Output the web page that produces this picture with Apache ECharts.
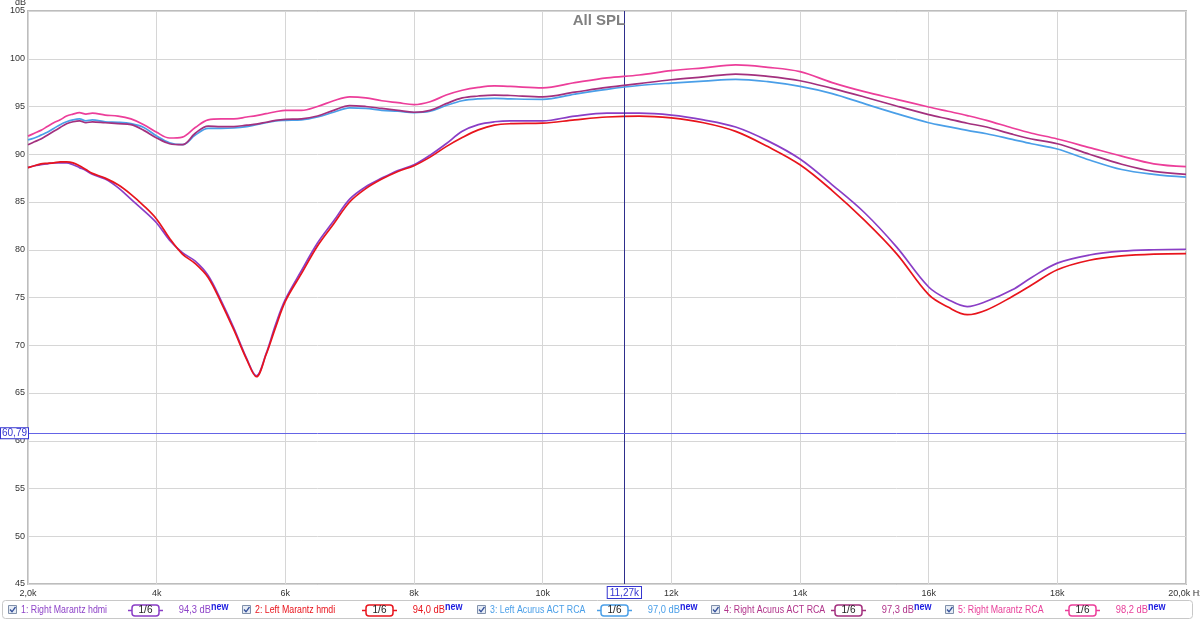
<!DOCTYPE html>
<html>
<head>
<meta charset="utf-8">
<script src="https://cdn.jsdelivr.net/npm/echarts@6/dist/echarts.min.js"></script>
<style>
html,body{margin:0;padding:0;background:#fff;}
#chart{width:1200px;height:620px;}
</style>
</head>
<body>
<div id="chart"></div>
<script>
// Frequency grid (kHz)
const FREQ = [2.0,2.1,2.2,2.3,2.4,2.5,2.6,2.7,2.8,2.9,
  3.0,3.2,3.4,3.6,3.8,4.0,4.2,4.4,4.6,4.8,
  5.0,5.2,5.4,5.55,5.7,5.85,6.0,6.25,6.5,6.75,
  7.0,7.25,7.5,7.75,8.0,8.25,8.5,8.75,9.0,9.25,
  9.5,10.0,10.5,11.0,11.5,12.0,12.5,13.0,13.5,14.0,
  14.5,15.0,15.5,16.0,16.3,16.6,16.9,17.3,17.6,18.0,
  18.5,19.0,19.5,20.0];

// 1: Right Marantz hdmi
const RIGHT_MARANTZ_HDMI = [88.6,88.8,88.9,89.0,89.1,89.1,89.1,88.9,88.6,88.3,
  87.9,87.4,86.5,85.3,84.1,82.8,81.0,79.7,78.8,77.3,
  74.7,71.8,68.6,66.8,69.1,72.2,74.8,77.8,80.7,83.0,
  85.3,86.6,87.5,88.3,88.9,89.9,91.1,92.4,93.1,93.4,
  93.5,93.5,94.0,94.3,94.3,94.1,93.6,92.85,91.4,89.5,
  86.8,83.9,80.3,76.1,74.8,74.05,74.6,75.8,77.1,78.6,
  79.45,79.85,80.0,80.05];

// 2: Left Marantz hmdi
const LEFT_MARANTZ_HDMI = [88.6,88.8,89.0,89.05,89.1,89.2,89.2,89.1,88.8,88.4,
  88.0,87.5,86.8,85.8,84.6,83.2,81.2,79.55,78.55,77.1,
  74.5,71.6,68.5,66.7,69.0,71.9,74.6,77.5,80.4,82.7,
  85.0,86.4,87.4,88.2,88.8,89.7,90.8,91.75,92.55,93.05,
  93.2,93.25,93.6,93.9,94.0,93.8,93.3,92.4,90.8,88.9,
  86.2,83.1,79.6,75.3,74.0,73.2,73.7,75.1,76.3,77.9,
  78.9,79.35,79.55,79.6];

// 3: Left Acurus ACT RCA
const LEFT_ACURUS_RCA = [91.5,91.7,92.0,92.3,92.7,93.1,93.4,93.6,93.7,93.5,
  93.6,93.4,93.35,93.2,92.8,91.9,91.2,91.0,92.0,92.7,
  92.7,92.75,92.9,93.1,93.3,93.5,93.55,93.6,93.9,94.4,
  94.85,94.8,94.6,94.5,94.35,94.5,95.1,95.6,95.8,95.85,
  95.8,95.75,96.3,96.8,97.2,97.45,97.65,97.85,97.6,97.1,
  96.35,95.3,94.25,93.3,92.9,92.5,92.15,91.55,91.1,90.55,
  89.4,88.4,87.9,87.6];

// 4: Right Acurus ACT RCA
const RIGHT_ACURUS_RCA = [91.0,91.3,91.6,92.0,92.4,92.8,93.2,93.4,93.5,93.3,
  93.4,93.3,93.2,93.1,92.5,91.7,91.1,91.0,92.2,92.95,
  92.9,92.9,93.05,93.15,93.35,93.55,93.65,93.7,94.0,94.6,
  95.1,95.0,94.8,94.6,94.4,94.6,95.3,95.9,96.1,96.2,
  96.15,96.0,96.5,97.0,97.4,97.8,98.1,98.4,98.15,97.7,
  96.9,96.0,95.05,94.15,93.7,93.25,92.85,92.1,91.6,91.1,
  90.0,88.95,88.2,87.9];

// 5: Right Marantz RCA
const RIGHT_MARANTZ_RCA = [91.9,92.2,92.5,92.9,93.3,93.6,94.0,94.2,94.35,94.2,
  94.3,94.1,94.0,93.7,93.1,92.3,91.7,91.8,92.8,93.6,
  93.7,93.7,93.9,94.05,94.25,94.45,94.6,94.6,95.0,95.6,
  96.0,95.9,95.6,95.4,95.2,95.5,96.2,96.7,97.0,97.15,
  97.1,96.95,97.5,98.0,98.3,98.75,99.05,99.35,99.1,98.65,
  97.5,96.55,95.75,94.95,94.5,94.05,93.55,92.75,92.2,91.6,
  90.7,89.8,89.0,88.7];

const SERIES_NAMES = ['1: Right Marantz hdmi','2: Left Marantz hmdi','3: Left Acurus ACT RCA','4: Right Acurus ACT RCA','5: Right Marantz RCA'];
const SERIES_DATA = [RIGHT_MARANTZ_HDMI, LEFT_MARANTZ_HDMI, LEFT_ACURUS_RCA, RIGHT_ACURUS_RCA, RIGHT_MARANTZ_RCA];
const LEGEND_VALUES = ['94,3 dB','94,0 dB','97,0 dB','97,3 dB','98,2 dB'];
const SMOOTHING = '1/6';

const X_TICK_VALUES = [2,4,6,8,10,12,14,16,18,20];
const X_TICK_LABELS = ['2,0k','4k','6k','8k','10k','12k','14k','16k','18k','20,0k Hz'];
const Y_TICK_VALUES = [45,50,55,60,65,70,75,80,85,90,95,100,105];

const CURSOR_X = 11.27, CURSOR_X_LABEL = '11,27k';
const CURSOR_Y = 60.79, CURSOR_Y_LABEL = '60,79';
const TITLE = 'All SPL';

// styles
const COLORS = ['#8a3ec6','#e8141c','#4a9fe8','#a3307e','#ec3e9a'];
const TEXT_COLORS = ['#8e44c8','#e8141c','#4a9fe8','#b0338a','#e8409a'];
const FONT = 'Liberation Sans, Arial, sans-serif';

const chart = echarts.init(document.getElementById('chart'), null, {renderer:'canvas'});

const series = SERIES_DATA.map((arr, i) => ({
  name: SERIES_NAMES[i],
  type: 'line',
  data: FREQ.map((f, k) => [f, arr[k]]),
  showSymbol: false,
  smooth: 0.35,
  lineStyle: {color: COLORS[i], width: 1.7},
  itemStyle: {color: COLORS[i]},
  silent: true,
  z: 3 + i
}));

series.push({
  type: 'line',
  data: [],
  silent: true,
  z: 10,
  markLine: {
    symbol: 'none',
    silent: true,
    animation: false,
    data: [
      {xAxis: CURSOR_X, lineStyle: {color: '#2e2e8c', width: 1, type: 'solid'},
       label: {show: true, position: 'start', formatter: CURSOR_X_LABEL, color: '#3535d0',
               fontFamily: FONT, fontSize: 10, backgroundColor: '#fff', borderColor: '#3535d0',
               borderWidth: 1, padding: [1, 2, 0, 2], distance: 3}},
      {yAxis: CURSOR_Y, lineStyle: {color: '#6464e6', width: 1, type: 'solid'},
       label: {show: true, position: 'start', formatter: CURSOR_Y_LABEL, color: '#3535d0',
               fontFamily: FONT, fontSize: 10, backgroundColor: '#fff', borderColor: '#3535d0',
               borderWidth: 1, padding: [0, 1, 0, 1], distance: 0}}
    ]
  }
});

// custom legend row built from arrays
const graphic = [];
graphic.push({type:'rect', shape:{x:2.5, y:600.5, width:1190, height:18, r:3},
  style:{fill:'#fff', stroke:'#c8c8c8', lineWidth:1}, silent:true, z:1});
const LEG_X0 = 8, LEG_STEP = 234.3, LEG_Y = 610;
const TXT = (x, y, text, fill, font, align, sx) => ({
  type:'text', x:x, y:y, scaleX: sx || 1,
  style:{text:text, fill:fill, font:font, align:align, verticalAlign:'middle', textAlign:align, textVerticalAlign:'middle'},
  silent:true, z:4
});
SERIES_NAMES.forEach((name, i) => {
  const x = Math.round(LEG_X0 + i * LEG_STEP);
  graphic.push({type:'rect', shape:{x:x+0.5, y:LEG_Y-4.5, width:8, height:8},
    style:{fill:'#e6ecf5', stroke:'#8090aa', lineWidth:1}, silent:true, z:2});
  graphic.push({type:'polyline', shape:{points:[[x+2,LEG_Y-0.5],[x+4,LEG_Y+1.8],[x+7.5,LEG_Y-3]]},
    style:{fill:null, stroke:'#34509a', lineWidth:1.3}, silent:true, z:3});
  graphic.push(TXT(x+13, LEG_Y, name, TEXT_COLORS[i], '11px '+FONT, 'left', 0.8));
  // smoothing box
  graphic.push({type:'line', shape:{x1:x+120, y1:LEG_Y+0.5, x2:x+155, y2:LEG_Y+0.5},
    style:{stroke:COLORS[i], lineWidth:1.5}, silent:true, z:2});
  graphic.push({type:'rect', shape:{x:x+124, y:LEG_Y-5, width:27, height:11, r:3},
    style:{fill:'#fff', stroke:COLORS[i], lineWidth:1.5}, silent:true, z:3});
  graphic.push(TXT(x+137.5, LEG_Y+0.5, SMOOTHING, '#222', '10px '+FONT, 'center', 1));
  // value + new
  graphic.push(TXT(x+203, LEG_Y, LEGEND_VALUES[i], TEXT_COLORS[i], '11px '+FONT, 'right', 0.85));
  graphic.push(TXT(x+203, LEG_Y-3, 'new', '#1c1ce0', 'bold 10px '+FONT, 'left', 0.9));
});

const option = {
  animation: false,
  backgroundColor: '#fff',
  title: {
    text: TITLE, left: 594, top: 8, textAlign: 'center',
    textStyle: {color: '#808080', fontSize: 15, fontWeight: 'bold', fontFamily: FONT}
  },
  grid: {left: 28, right: 14, top: 11, bottom: 36, show: true, containLabel: false,
    outerBoundsMode: 'none',
    borderColor: '#bdbdbd', borderWidth: 2, backgroundColor: 'transparent'},
  xAxis: {
    type: 'value', min: 2, max: 20, interval: 2,
    axisLine: {show: false}, axisTick: {show: false},
    splitLine: {show: true, lineStyle: {color: '#d6d6d6', width: 1}},
    axisLabel: {
      color: '#333', fontSize: 9, fontFamily: FONT, margin: 5,
      showMinLabel: true, showMaxLabel: true, hideOverlap: false,
      formatter: v => { const k = X_TICK_VALUES.indexOf(v); return k >= 0 ? X_TICK_LABELS[k] : ''; }
    }
  },
  yAxis: {
    type: 'value', min: 45, max: 105, interval: 5,
    name: 'dB', nameLocation: 'end', nameGap: 1,
    nameTextStyle: {color: '#333', fontSize: 9, fontFamily: FONT, align: 'right', verticalAlign: 'bottom', padding: [0, 2, 0, 0]},
    axisLine: {show: false}, axisTick: {show: false},
    splitLine: {show: true, lineStyle: {color: '#d6d6d6', width: 1}},
    axisLabel: {
      color: '#333', fontSize: 9, fontFamily: FONT, margin: 3,
      formatter: v => Y_TICK_VALUES.indexOf(v) >= 0 ? String(v) : ''
    }
  },
  series: series,
  graphic: graphic
};
chart.setOption(option);
</script>
</body>
</html>
